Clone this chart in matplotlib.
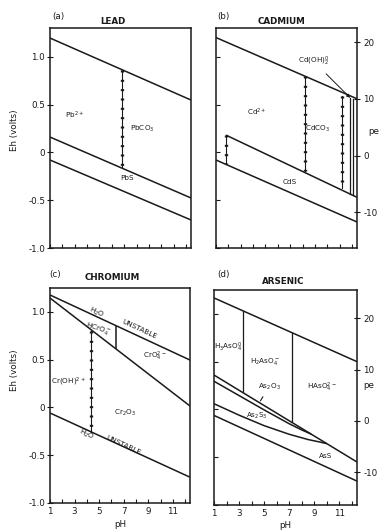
import matplotlib
matplotlib.use("Agg")
import matplotlib.pyplot as plt

# ---------------- data ----------------
PH_ENDS = [1.0, 12.4]
PH_TICKS = [1, 2, 3, 4, 5, 6, 7, 8, 9, 10, 11, 12]
PH_LABEL_TICKS = [1, 3, 5, 7, 9, 11]
PH_LABELS = ["1", "3", "5", "7", "9", "11"]
EH_TICKS = [1.0, 0.5, 0.0, -0.5, -1.0]
EH_LABELS = ["1.0", "0.5", "0", "-0.5", "-1.0"]
PE_TICKS = [20, 10, 0, -10]
PE_LABELS = ["20", "10", "0", "-10"]

# (a) Lead
lead_water_upper = [1.195, 0.547]
lead_pbs_upper = [0.16, -0.477]
lead_water_lower = [-0.08, -0.707]
lead_vert_ph = [6.82]
lead_vert_eh = [[0.86, -0.165]]
lead_labels = ["Pb$^{2+}$", "PbCO$_3$", "PbS"]
lead_label_ph = [3.0, 8.5, 7.2]
lead_label_eh = [0.39, 0.25, -0.27]

# (b) Cadmium
cd_water_upper = [1.20, 0.56]
cd_water_lower = [-0.08, -0.728]
cd_cds_ph = [1.81, 12.4]
cd_cds_eh = [0.18, -0.47]
cd_dotted_ph = [1.81, 8.2, 11.2]
cd_dotted_eh = [[0.18, -0.12], [0.80, -0.19], [0.59, -0.37]]
cd_solid_ph = [11.85, 12.1]
cd_solid_eh = [[0.57, -0.44], [0.56, -0.45]]
cd_labels = ["Cd$^{2+}$", "CdCO$_3$", "CdS"]
cd_label_ph = [4.3, 9.2, 7.0]
cd_label_eh = [0.42, 0.25, -0.31]
cd_arrow_label = "Cd(OH)$_2^0$"
cd_arrow_text = [8.9, 0.95]
cd_arrow_tip = [11.85, 0.57]

# (c) Chromium
cr_water_upper = [1.177, 0.496]
cr_vi_iii = [1.145, 0.015]
cr_water_lower = [-0.058, -0.73]
cr_dotted_ph = [4.34]
cr_dotted_eh = [[0.80, -0.256]]
cr_solid_ph = [6.37]
cr_solid_eh = [[0.85, 0.61]]
cr_labels = ["HCrO$_4^-$", "CrO$_4^{2-}$", "Cr(OH)$^{2+}$", "Cr$_2$O$_3$"]
cr_label_ph = [4.9, 9.5, 2.5, 7.1]
cr_label_eh = [0.82, 0.53, 0.27, -0.06]
cr_h2o_ph = [4.8, 4.0]
cr_h2o_eh = [0.99, -0.29]
cr_unst_ph = [8.3, 7.0]
cr_unst_eh = [0.82, -0.40]

# (d) Arsenic
as_water_upper = [1.167, 0.50]
as_water_lower = [-0.0625, -0.75]
as_a = [0.36, -0.55]
as_b_ph = [1, 3, 5, 7, 8, 8.75]
as_b_eh = [0.295, 0.145, -0.005, -0.15, -0.215, -0.258]
as_c_ph = [1, 3, 5, 7, 8.5, 9.4, 10.0]
as_c_eh = [0.06, -0.06, -0.17, -0.26, -0.315, -0.34, -0.358]
as_vert_ph = [3.31, 7.22]
as_vert_eh = [[1.03, 0.18], [0.80, -0.12]]
as_labels = ["H$_3$AsO$_4^0$", "H$_2$AsO$_4^-$", "HAsO$_4^{2-}$", "As$_2$S$_3$", "AsS"]
as_label_ph = [2.15, 5.1, 9.6, 4.4, 9.9]
as_label_eh = [0.65, 0.50, 0.23, -0.07, -0.49]
as_o3_label = "As$_2$O$_3$"
as_o3_text = [5.4, 0.24]
as_o3_tip = [4.7, 0.09]

# ---------------- drawing ----------------
W, H = 382, 531
fig = plt.figure(figsize=(W / 100, H / 100), dpi=100)
INK = "#1a1a1a"
LW = 1.1
FS = 6.3
LFS = 5.2


def rect(l, r, t, b):
    return [l / W, 1 - b / H, (r - l) / W, (b - t) / H]


def ftext(px, py, s, **kw):
    fig.text(px / W, 1 - py / H, s, color=INK, **kw)


def setup(ax, ylim, left_labels, bottom_labels):
    ax.set_xlim(*PH_ENDS)
    ax.set_ylim(*ylim)
    for sp in ax.spines.values():
        sp.set_linewidth(1.1)
        sp.set_color(INK)
    ax.set_xticks(PH_TICKS)
    if bottom_labels:
        ax.set_xticks(PH_LABEL_TICKS, labels=PH_LABELS)
        ax.set_xticks(PH_TICKS, minor=True)
    else:
        ax.set_xticklabels([])
    ax.tick_params(axis="x", which="both", direction="in", length=3, width=0.8,
                   colors=INK, labelsize=FS, pad=3, top=False)
    ax.set_yticks(EH_TICKS)
    if left_labels:
        ax.set_yticklabels(EH_LABELS)
        ax.tick_params(axis="y", direction="inout", length=5, width=0.8,
                       colors=INK, labelsize=FS, pad=1, right=False)
    else:
        ax.set_yticklabels([])
        ax.tick_params(axis="y", direction="in", length=3, width=0.8,
                       colors=INK, right=False)


def solid(ax, x, y):
    ax.plot(x, y, color=INK, lw=LW, solid_capstyle="butt")


def dotted(ax, x, y):
    ax.plot(x, y, color=INK, lw=0.8)
    ax.plot(x, y, color=INK, lw=2.4, ls=(0, (0.6, 2.2)))


def pe_axis(ax, lim):
    tw = ax.twinx()
    tw.set_ylim(*lim)
    tw.set_yticks(PE_TICKS, labels=PE_LABELS)
    tw.tick_params(axis="y", direction="inout", length=5, width=0.8,
                   colors=INK, labelsize=FS, pad=2)
    for sp in tw.spines.values():
        sp.set_visible(False)
    return tw


# (a) Lead
axa = fig.add_axes(rect(50, 191, 28, 248))
setup(axa, (-1.0, 1.3), True, False)
solid(axa, PH_ENDS, lead_water_upper)
solid(axa, PH_ENDS, lead_pbs_upper)
solid(axa, PH_ENDS, lead_water_lower)
for p, e in zip(lead_vert_ph, lead_vert_eh):
    dotted(axa, [p, p], e)
for s, p, e in zip(lead_labels, lead_label_ph, lead_label_eh):
    axa.text(p, e, s, fontsize=LFS, color=INK, ha="center", va="center")

# (b) Cadmium
axb = fig.add_axes(rect(216, 357, 28, 248))
setup(axb, (-1.0, 1.3), False, False)
solid(axb, PH_ENDS, cd_water_upper)
solid(axb, PH_ENDS, cd_water_lower)
solid(axb, cd_cds_ph, cd_cds_eh)
for p, e in zip(cd_dotted_ph, cd_dotted_eh):
    dotted(axb, [p, p], e)
for p, e in zip(cd_solid_ph, cd_solid_eh):
    axb.plot([p, p], e, color=INK, lw=0.9)
for s, p, e in zip(cd_labels, cd_label_ph, cd_label_eh):
    axb.text(p, e, s, fontsize=LFS, color=INK, ha="center", va="center")
axb.annotate(cd_arrow_label, xy=cd_arrow_tip, xytext=cd_arrow_text,
             fontsize=LFS, color=INK, ha="center", va="center",
             arrowprops=dict(arrowstyle="-|>", color=INK, lw=0.7,
                             mutation_scale=5, shrinkA=3, shrinkB=0))
pe_axis(axb, (-16.3, 22.5))

# (c) Chromium
axc = fig.add_axes(rect(50, 190, 288, 503))
setup(axc, (-1.0, 1.25), True, True)
solid(axc, PH_ENDS, cr_water_upper)
solid(axc, PH_ENDS, cr_vi_iii)
solid(axc, PH_ENDS, cr_water_lower)
for p, e in zip(cr_dotted_ph, cr_dotted_eh):
    dotted(axc, [p, p], e)
for p, e in zip(cr_solid_ph, cr_solid_eh):
    solid(axc, [p, p], e)
rots = [-18, 0, 0, 0]
for s, p, e, r in zip(cr_labels, cr_label_ph, cr_label_eh, rots):
    axc.text(p, e, s, fontsize=LFS, color=INK, ha="center", va="center", rotation=r)
for p, e in zip(cr_h2o_ph, cr_h2o_eh):
    axc.text(p, e, "H$_2$O", fontsize=LFS, color=INK, ha="center", va="center", rotation=-25)
for p, e in zip(cr_unst_ph, cr_unst_eh):
    axc.text(p, e, "UNSTABLE", fontsize=LFS, color=INK, ha="center", va="center", rotation=-25)
axc.set_xlabel("pH", fontsize=FS, color=INK, labelpad=3)

# (d) Arsenic
axd = fig.add_axes(rect(214, 357, 290, 505))
setup(axd, (-1.0, 1.25), False, True)
solid(axd, PH_ENDS, as_water_upper)
solid(axd, PH_ENDS, as_water_lower)
solid(axd, PH_ENDS, as_a)
solid(axd, as_b_ph, as_b_eh)
solid(axd, as_c_ph, as_c_eh)
for p, e in zip(as_vert_ph, as_vert_eh):
    axd.plot([p, p], e, color=INK, lw=0.9)
for s, p, e in zip(as_labels, as_label_ph, as_label_eh):
    axd.text(p, e, s, fontsize=LFS, color=INK, ha="center", va="center")
axd.annotate(as_o3_label, xy=as_o3_tip, xytext=as_o3_text,
             fontsize=LFS, color=INK, ha="center", va="center",
             arrowprops=dict(arrowstyle="-", color=INK, lw=0.8, shrinkA=2, shrinkB=0))
axd.set_xlabel("pH", fontsize=FS, color=INK, labelpad=2)
pe_axis(axd, (-16.4, 25.5))

# titles and axis labels
ftext(58, 17, "(a)", fontsize=FS, ha="center", va="center")
ftext(113, 22, "LEAD", fontsize=FS, ha="center", va="center", fontweight="bold")
ftext(223, 17, "(b)", fontsize=FS, ha="center", va="center")
ftext(282, 22, "CADMIUM", fontsize=FS, ha="center", va="center", fontweight="bold")
ftext(55, 275, "(c)", fontsize=FS, ha="center", va="center")
ftext(112, 278, "CHROMIUM", fontsize=FS, ha="center", va="center", fontweight="bold")
ftext(223, 275, "(d)", fontsize=FS, ha="center", va="center")
ftext(283, 282, "ARSENIC", fontsize=FS, ha="center", va="center", fontweight="bold")
ftext(15, 130, "Eh (volts)", fontsize=FS, ha="center", va="center", rotation=90)
ftext(15, 370, "Eh (volts)", fontsize=FS, ha="center", va="center", rotation=90)
ftext(374, 132, "pe", fontsize=FS, ha="center", va="center")
ftext(369, 386, "pe", fontsize=FS, ha="center", va="center")

fig.savefig("out.png", dpi=100, facecolor="white")
